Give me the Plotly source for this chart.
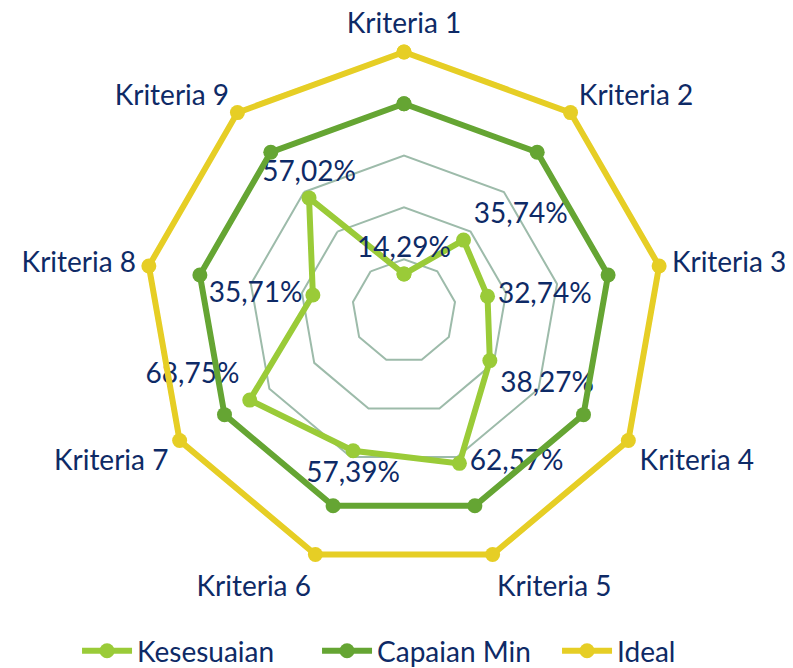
import plotly.graph_objects as go

categories = ["Kriteria 1", "Kriteria 2", "Kriteria 3", "Kriteria 4", "Kriteria 5",
              "Kriteria 6", "Kriteria 7", "Kriteria 8", "Kriteria 9"]
kesesuaian = [14.29, 35.74, 32.74, 38.27, 62.57, 57.39, 68.75, 35.71, 57.02]
capaian_min = [80, 80, 80, 80, 80, 80, 80, 80, 80]
ideal = [100, 100, 100, 100, 100, 100, 100, 100, 100]
radial_ticks = [0, 20, 40, 60, 80, 100]

label_pos = ["top center", "top right", "middle right", "bottom right", "middle right",
             "bottom center", "top left", "middle left", "top center"]

TEXT = "#0E2A66"
FONT = "Lato, 'Noto Sans', sans-serif"
FS = 28

def closed(v):
    return list(v) + [v[0]]

fig = go.Figure()

labels = [f"{v:.2f}%".replace(".", ",") for v in kesesuaian]

fig.add_trace(go.Scatterpolar(
    r=closed(kesesuaian), theta=closed(categories), name="Kesesuaian",
    mode="lines+markers+text",
    text=labels + [""], textposition=label_pos + ["top center"],
    textfont=dict(size=FS, color=TEXT, family=FONT),
    line=dict(color="#9ACB38", width=6),
    marker=dict(color="#9ACB38", size=15),
    cliponaxis=False,
))
fig.add_trace(go.Scatterpolar(
    r=closed(capaian_min), theta=closed(categories), name="Capaian Min",
    mode="lines+markers",
    line=dict(color="#65A533", width=6),
    marker=dict(color="#65A533", size=15),
    cliponaxis=False,
))
fig.add_trace(go.Scatterpolar(
    r=closed(ideal), theta=closed(categories), name="Ideal",
    mode="lines+markers",
    line=dict(color="#E6CE25", width=6),
    marker=dict(color="#E6CE25", size=15),
    cliponaxis=False,
))

fig.update_layout(
    width=793, height=668,
    margin=dict(l=0, r=0, t=0, b=0, autoexpand=False),
    paper_bgcolor="white", plot_bgcolor="white",
    font=dict(family=FONT, color=TEXT, size=FS),
    polar=dict(
        domain=dict(x=[0.1677, 0.831], y=[0.1527, 0.940]),
        bgcolor="white",
        gridshape="linear",
        angularaxis=dict(
            direction="clockwise", rotation=90,
            showgrid=False, showline=False,
            ticks="outside", ticklen=3, tickcolor="rgba(0,0,0,0)",
            tickfont=dict(size=FS, color=TEXT, family=FONT),
        ),
        radialaxis=dict(
            range=[0, 101.5], tickvals=radial_ticks,
            showticklabels=False, showline=False, ticks="",
            gridcolor="#9DBBAA", gridwidth=1.5,
        ),
    ),
    legend=dict(
        orientation="h", x=0.995, xanchor="right", y=0.0, yanchor="bottom",
        font=dict(size=FS, color=TEXT, family=FONT),
        itemwidth=50, entrywidth=175,
    ),
)

fig.write_html("out.html")
